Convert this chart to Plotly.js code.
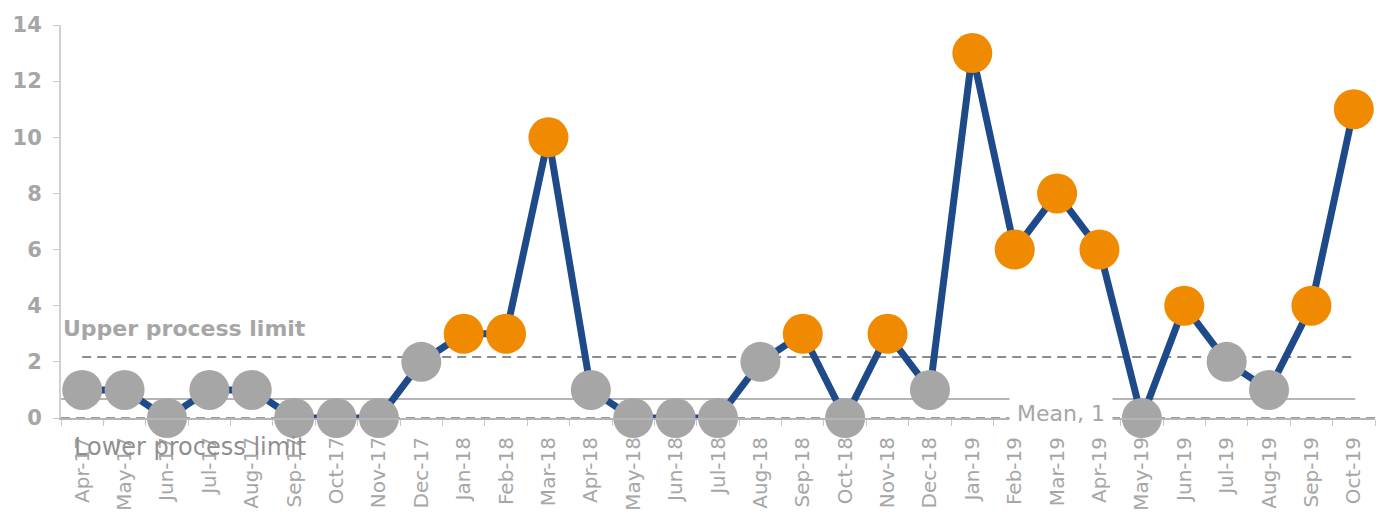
<!DOCTYPE html>
<html>
<head>
<meta charset="utf-8">
<script src="https://cdn.plot.ly/plotly-3.0.1.min.js"></script>
<style>html,body{margin:0;padding:0;background:#fff;}#chart{width:1385px;height:516px;}</style>
</head>
<body>
<div id="chart"></div>
<script>
const months = ["Apr-17","May-17","Jun-17","Jul-17","Aug-17","Sep-17","Oct-17","Nov-17","Dec-17",
  "Jan-18","Feb-18","Mar-18","Apr-18","May-18","Jun-18","Jul-18","Aug-18","Sep-18","Oct-18","Nov-18","Dec-18",
  "Jan-19","Feb-19","Mar-19","Apr-19","May-19","Jun-19","Jul-19","Aug-19","Sep-19","Oct-19"];
const counts = [1,1,0,1,1,0,0,0,2,3,3,10,1,0,0,0,2,3,0,3,1,13,6,8,6,0,4,2,1,4,11];
const upperLimit = 2.17;
const meanValue = 0.68;
const lowerLimit = 0;
const yTicks = [0,2,4,6,8,10,12,14];

const grey = "#a6a6a6";
const orange = "#f08a00";
const navy = "#1f4a8a";
const markerColors = counts.map(v => v > upperLimit ? orange : grey);

const trace = {
  x: months, y: counts, type: "scatter", mode: "lines+markers",
  line: {color: navy, width: 7},
  marker: {color: markerColors, size: 40, line: {width: 0}},
  cliponaxis: false, hoverinfo: "x+y"
};

const layout = {
  width: 1385, height: 516,
  margin: {l: 61, r: 10, t: 25, b: 98},
  paper_bgcolor: "#fff", plot_bgcolor: "#fff",
  showlegend: false,
  font: {family: "DejaVu Sans, sans-serif", color: grey},
  xaxis: {
    type: "category", tickangle: -90, showgrid: false, zeroline: false,
    showline: true, linecolor: "#b5b5b5", linewidth: 2,
    ticks: "outside", tickson: "boundaries", ticklen: 6, tickcolor: "#c8c8c8",
    ticklabelstandoff: 9,
    tickfont: {family: "DejaVu Sans, sans-serif", size: 20, color: grey}, range: [-0.5, 30.5]
  },
  yaxis: {
    range: [0, 14], tickvals: yTicks, ticktext: yTicks.map(v => "<b>" + v + "</b>"),
    showgrid: false, zeroline: false, showline: true, linecolor: "#d0d0d0", linewidth: 2,
    ticks: "outside", ticklen: 6, tickcolor: "#c8c8c8", ticklabelstandoff: 7,
    tickfont: {family: "DejaVu Sans, sans-serif", size: 21, color: grey}
  },
  shapes: [
    {type: "line", xref: "paper", x0: 0, x1: 0.985, yref: "y", y0: meanValue, y1: meanValue,
     line: {color: "#b5b5b5", width: 2}, layer: "below"},
    {type: "line", xref: "x", x0: 0, x1: 30, yref: "y", y0: upperLimit, y1: upperLimit,
     line: {color: "#8c8c8c", width: 2, dash: "9px,6px"}, layer: "below"},
    {type: "line", xref: "paper", x0: 0, x1: 1, yref: "y", y0: lowerLimit, y1: lowerLimit,
     line: {color: "#9a9a9a", width: 2, dash: "9px,6px"}, layer: "below"}
  ],
  annotations: [
    {text: "<b>Upper process limit</b>", xref: "paper", x: 0.0, xanchor: "left",
     yref: "y", y: 3.2, yanchor: "middle", showarrow: false,
     font: {family: "DejaVu Sans, sans-serif", size: 22, color: grey}},
    {text: "Lower process limit", xref: "paper", x: 0.008, xanchor: "left",
     yref: "y", y: lowerLimit, yshift: -29, yanchor: "middle", showarrow: false,
     font: {family: "DejaVu Sans, sans-serif", size: 24, color: "#909090"}},
    {text: "Mean, 1", xref: "paper", x: 0.761, xanchor: "center",
     yref: "y", y: meanValue, yshift: -15, yanchor: "middle", showarrow: false,
     bgcolor: "#fff", borderpad: 7,
     font: {family: "DejaVu Sans, sans-serif", size: 22, color: grey}}
  ]
};

Plotly.newPlot("chart", [trace], layout, {displayModeBar: false, staticPlot: true});
</script>
</body>
</html>
